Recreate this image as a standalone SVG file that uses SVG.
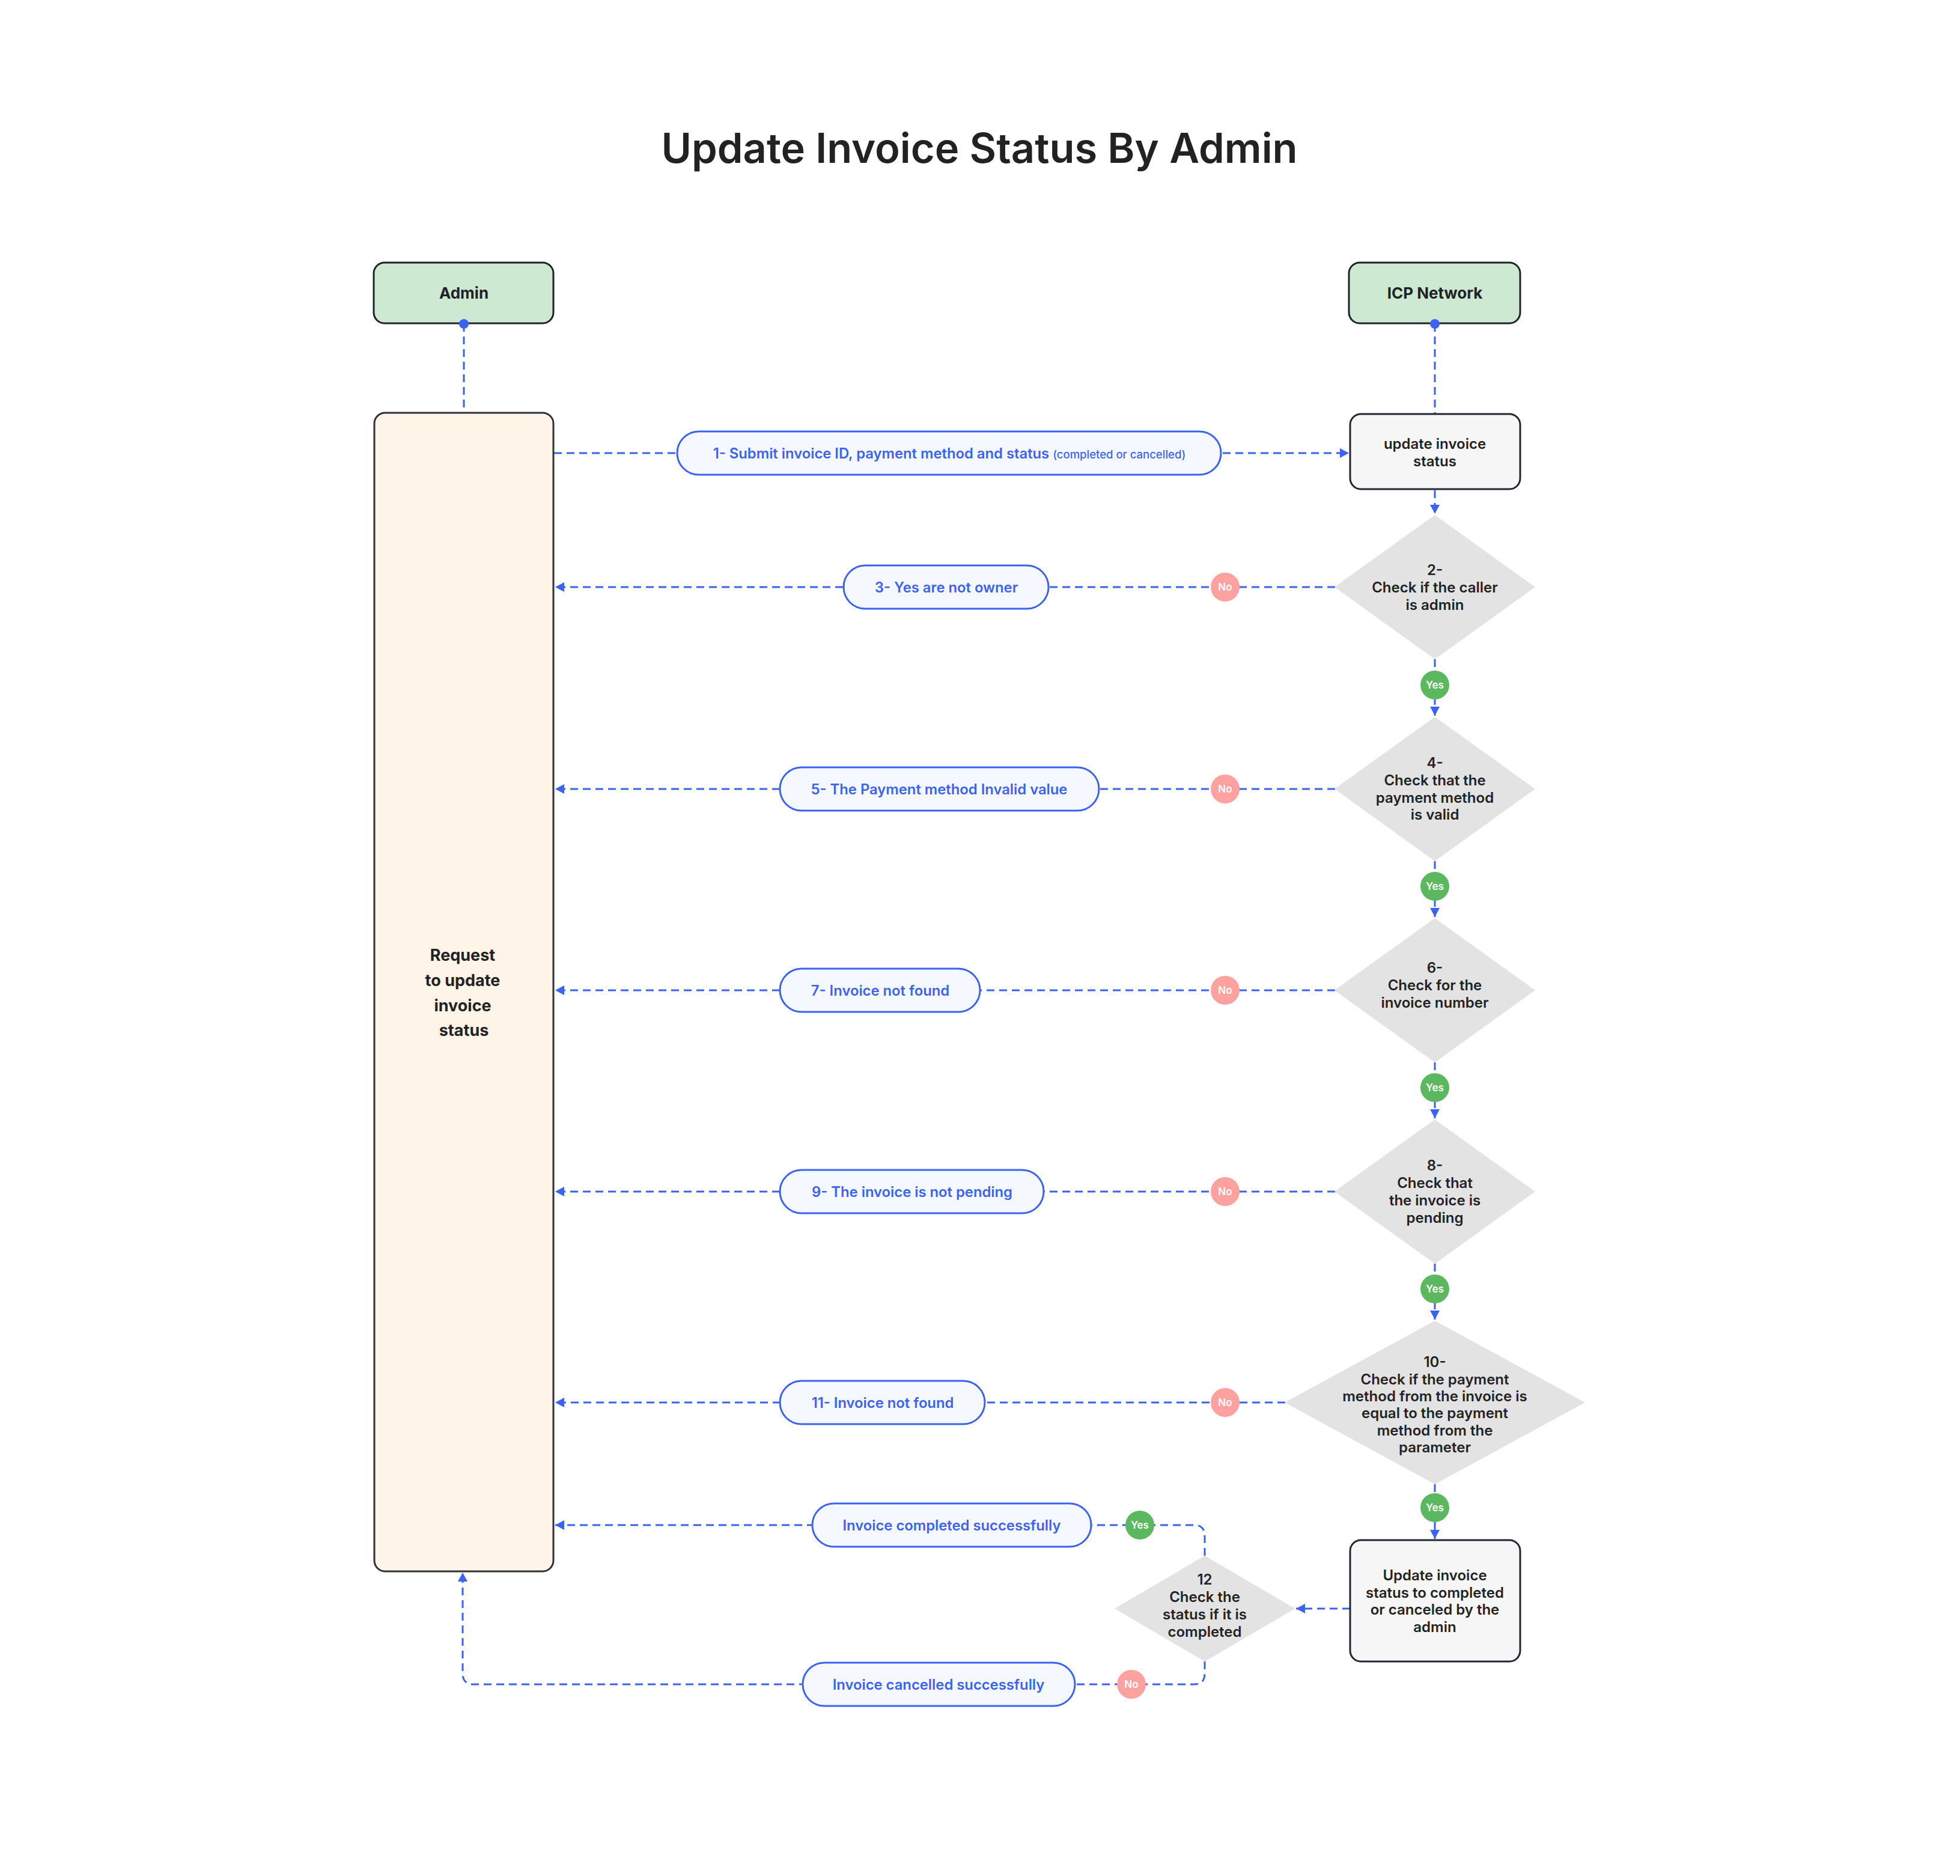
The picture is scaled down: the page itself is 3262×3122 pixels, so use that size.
<svg xmlns="http://www.w3.org/2000/svg" width="3262" height="3122" viewBox="0 0 3262 3122">
<style>
text{font-family:Inter,"Liberation Sans",sans-serif;}
.title{font-size:68.6px;font-weight:600;fill:#222;text-anchor:middle;}
.hdr{fill:#cde9d2;stroke:#1f2226;stroke-width:3;}
.hdrt{font-size:26px;font-weight:700;fill:#1f2226;text-anchor:middle;}
.act{fill:#fef4e8;stroke:#2e303a;stroke-width:3;}
.actt{font-size:27px;font-weight:700;fill:#222;text-anchor:middle;}
.box{fill:#f5f6f5;stroke:#222632;stroke-width:3;}
.boxt{font-size:24px;font-weight:600;fill:#222;text-anchor:middle;}
.dia{fill:#e3e3e3;}
.diat{font-size:24px;font-weight:600;fill:#222;text-anchor:middle;}
.pill{fill:#f5f8fe;stroke:#3b63f3;stroke-width:3;}
.pillt{font-size:23.8px;font-weight:600;fill:#3b63f3;text-anchor:middle;}
.yes{fill:#5cb85f;}
.no{fill:#ffa19e;}
.badge{font-size:17px;font-weight:600;fill:#fff;text-anchor:middle;}
.ln{fill:none;stroke:#3b63f3;stroke-width:3;stroke-dasharray:13 8;}
.arr{marker-end:url(#ah);}
</style>
<defs>
<marker id="ah" markerUnits="userSpaceOnUse" markerWidth="16" markerHeight="16" refX="15" refY="8" orient="auto">
<path d="M0,0 L15,8 L0,16 z" fill="#3b63f3"/>
</marker>
</defs>
<rect width="3262" height="3122" fill="#fff"/>
<text class="title" x="1630" y="271">Update Invoice Status By Admin</text>

<g id="connectors">
<path class="ln" d="M772 539 V687"/>
<path class="ln" d="M2388 539 V689"/>
<path class="ln arr" d="M922 754 H2245"/>
<path class="ln arr" d="M2388 816 V855"/>
<path class="ln arr" d="M2222 977 H924"/>
<path class="ln arr" d="M2388 1097 V1191"/>
<path class="ln arr" d="M2222 1313 H924"/>
<path class="ln arr" d="M2388 1433 V1526"/>
<path class="ln arr" d="M2222 1648 H924"/>
<path class="ln arr" d="M2388 1768 V1861"/>
<path class="ln arr" d="M2222 1983 H924"/>
<path class="ln arr" d="M2388 2103 V2196"/>
<path class="ln arr" d="M2139 2334 H924"/>
<path class="ln arr" d="M2388 2470 V2561"/>
<path class="ln arr" d="M2247 2677 H2157"/>
<path class="ln arr" d="M2005 2589 V2556 Q2005 2538 1987 2538 H924"/>
<path class="ln arr" d="M2005 2765 V2785 Q2005 2803 1987 2803 H788 Q770 2803 770 2785 V2617"/>
</g>

<g id="admin-header">
<rect class="hdr" x="622" y="437" width="299" height="101" rx="18"/>
<text class="hdrt" x="772" y="497">Admin</text>
</g>
<g id="icp-header">
<rect class="hdr" x="2245" y="437" width="285" height="101" rx="18"/>
<text class="hdrt" x="2388" y="497">ICP Network</text>
</g>
<g id="lifeline-dots">
<circle cx="772" cy="539" r="8" fill="#3b63f3"/>
<circle cx="2388" cy="539" r="8" fill="#3b63f3"/>
</g>

<g id="admin-activity">
<rect class="act" x="623" y="687" width="298" height="1928" rx="18"/>
<text class="actt" x="770" y="1599">Request</text>
<text class="actt" x="770" y="1641">to update</text>
<text class="actt" x="770" y="1683">invoice</text>
<text class="actt" x="772" y="1724">status</text>
</g>

<g id="msg1">
<rect class="pill" x="1127" y="718" width="905" height="72" rx="36"/>
<text class="pillt" x="1580" y="763">1- Submit invoice ID, payment method and status <tspan font-size="18.5" font-weight="500">(completed or cancelled)</tspan></text>
</g>

<g id="update-status">
<rect class="box" x="2247" y="689" width="283" height="125" rx="18"/>
<text class="boxt" x="2388" y="747">update invoice</text>
<text class="boxt" x="2388" y="776">status</text>
</g>

<g id="d2">
<polygon class="dia" points="2388,857 2555,977 2388,1097 2221,977"/>
<text class="diat" x="2388" y="957">2-</text>
<text class="diat" x="2388" y="986">Check if the caller</text>
<text class="diat" x="2388" y="1015">is admin</text>
</g>
<g id="msg3">
<rect class="pill" x="1404" y="941" width="341" height="72" rx="36"/>
<text class="pillt" x="1575" y="986">3- Yes are not owner</text>
</g>
<g id="no3"><circle class="no" cx="2039" cy="977" r="24"/><text class="badge" x="2039" y="983">No</text></g>
<g id="yes2"><circle class="yes" cx="2388" cy="1140" r="24"/><text class="badge" x="2388" y="1146">Yes</text></g>

<g id="d4">
<polygon class="dia" points="2388,1193 2555,1313 2388,1433 2221,1313"/>
<text class="diat" x="2388" y="1278">4-</text>
<text class="diat" x="2388" y="1307">Check that the</text>
<text class="diat" x="2388" y="1336">payment method</text>
<text class="diat" x="2388" y="1364">is valid</text>
</g>
<g id="msg5">
<rect class="pill" x="1298" y="1277" width="531" height="72" rx="36"/>
<text class="pillt" x="1563" y="1322">5- The Payment method Invalid value</text>
</g>
<g id="no5"><circle class="no" cx="2039" cy="1313" r="24"/><text class="badge" x="2039" y="1319">No</text></g>
<g id="yes4"><circle class="yes" cx="2388" cy="1475" r="24"/><text class="badge" x="2388" y="1481">Yes</text></g>

<g id="d6">
<polygon class="dia" points="2388,1528 2555,1648 2388,1768 2221,1648"/>
<text class="diat" x="2388" y="1619">6-</text>
<text class="diat" x="2388" y="1648">Check for the</text>
<text class="diat" x="2388" y="1677">invoice number</text>
</g>
<g id="msg7">
<rect class="pill" x="1298" y="1612" width="333" height="72" rx="36"/>
<text class="pillt" x="1465" y="1657">7- Invoice not found</text>
</g>
<g id="no7"><circle class="no" cx="2039" cy="1648" r="24"/><text class="badge" x="2039" y="1654">No</text></g>
<g id="yes6"><circle class="yes" cx="2388" cy="1810" r="24"/><text class="badge" x="2388" y="1816">Yes</text></g>

<g id="d8">
<polygon class="dia" points="2388,1863 2555,1983 2388,2103 2221,1983"/>
<text class="diat" x="2388" y="1948">8-</text>
<text class="diat" x="2388" y="1977">Check that</text>
<text class="diat" x="2388" y="2006">the invoice is</text>
<text class="diat" x="2388" y="2035">pending</text>
</g>
<g id="msg9">
<rect class="pill" x="1298" y="1947" width="439" height="72" rx="36"/>
<text class="pillt" x="1518" y="1992">9- The invoice is not pending</text>
</g>
<g id="no9"><circle class="no" cx="2039" cy="1983" r="24"/><text class="badge" x="2039" y="1989">No</text></g>
<g id="yes8"><circle class="yes" cx="2388" cy="2145" r="24"/><text class="badge" x="2388" y="2151">Yes</text></g>

<g id="d10">
<polygon class="dia" points="2388,2198 2638,2334 2388,2470 2138,2334"/>
<text class="diat" x="2388" y="2275">10-</text>
<text class="diat" x="2388" y="2304">Check if the payment</text>
<text class="diat" x="2388" y="2332">method from the invoice is</text>
<text class="diat" x="2388" y="2360">equal to the payment</text>
<text class="diat" x="2388" y="2389">method from the</text>
<text class="diat" x="2388" y="2417">parameter</text>
</g>
<g id="msg11">
<rect class="pill" x="1298" y="2298" width="341" height="72" rx="36"/>
<text class="pillt" x="1469" y="2343">11- Invoice not found</text>
</g>
<g id="no11"><circle class="no" cx="2039" cy="2334" r="24"/><text class="badge" x="2039" y="2340">No</text></g>
<g id="yes10"><circle class="yes" cx="2388" cy="2509" r="24"/><text class="badge" x="2388" y="2515">Yes</text></g>

<g id="update-final">
<rect class="box" x="2247" y="2563" width="283" height="202" rx="18"/>
<text class="boxt" x="2388" y="2630">Update invoice</text>
<text class="boxt" x="2388" y="2659">status to completed</text>
<text class="boxt" x="2388" y="2687">or canceled by the</text>
<text class="boxt" x="2388" y="2716">admin</text>
</g>

<g id="d12">
<polygon class="dia" points="2005,2589 2155,2677 2005,2765 1855,2677"/>
<text class="diat" x="2005" y="2637" font-weight="500">12</text>
<text class="diat" x="2005" y="2666" font-weight="500">Check the</text>
<text class="diat" x="2005" y="2695" font-weight="500">status if it is</text>
<text class="diat" x="2005" y="2724" font-weight="500">completed</text>
</g>
<g id="msg-completed">
<rect class="pill" x="1352" y="2502" width="464" height="72" rx="36"/>
<text class="pillt" x="1584" y="2547">Invoice completed successfully</text>
</g>
<g id="yes12"><circle class="yes" cx="1897" cy="2538" r="24"/><text class="badge" x="1897" y="2544">Yes</text></g>
<g id="msg-cancelled">
<rect class="pill" x="1336" y="2767" width="453" height="72" rx="36"/>
<text class="pillt" x="1562" y="2812">Invoice cancelled successfully</text>
</g>
<g id="no12"><circle class="no" cx="1883" cy="2803" r="24"/><text class="badge" x="1883" y="2809">No</text></g>
</svg>
